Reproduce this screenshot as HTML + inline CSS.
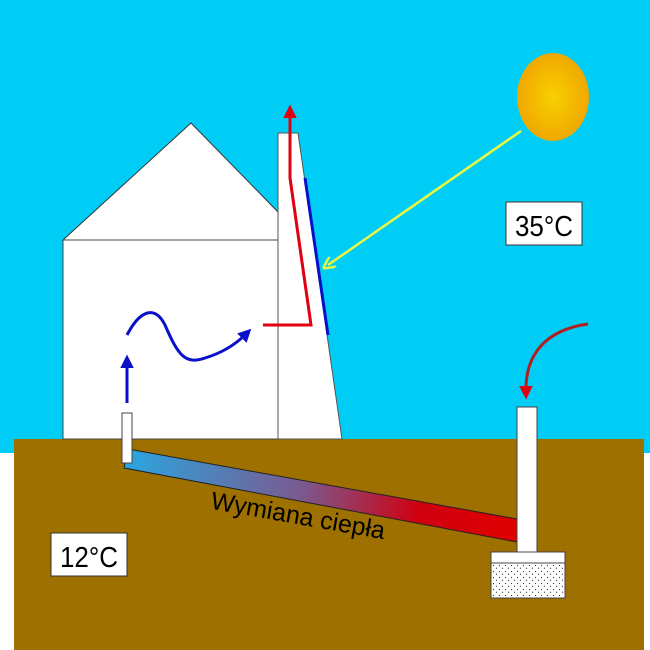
<!DOCTYPE html>
<html><head><meta charset="utf-8"><style>
html,body{margin:0;padding:0;background:#fff}
svg{display:block}
text{font-family:"Liberation Sans",sans-serif}
</style></head><body>
<svg width="650" height="650" viewBox="0 0 650 650">
<defs>
<radialGradient id="sunG" cx="0.5" cy="0.5" r="0.5"><stop offset="0" stop-color="#f8d000"/><stop offset="1" stop-color="#f0a800"/></radialGradient>
<linearGradient id="pipeG" x1="124" y1="460" x2="517" y2="530" gradientUnits="userSpaceOnUse"><stop offset="0" stop-color="#2aa6e0"/><stop offset="0.45" stop-color="#7a5a90"/><stop offset="0.75" stop-color="#d00010"/><stop offset="1" stop-color="#e00000"/></linearGradient>
<pattern id="dots" width="6" height="6" patternUnits="userSpaceOnUse"><rect width="6" height="6" fill="#fff"/><circle cx="1.5" cy="1.5" r="0.6" fill="#333"/><circle cx="4.5" cy="4.2" r="0.6" fill="#333"/></pattern>
<marker id="aBlue" markerWidth="4.5" markerHeight="4.5" refX="2" refY="2.25" orient="auto" markerUnits="strokeWidth"><path d="M0,0 L4.5,2.25 L0,4.5 z" fill="#0a10c8"/></marker>
<marker id="aRed" markerWidth="4.5" markerHeight="4.5" refX="2" refY="2.25" orient="auto" markerUnits="strokeWidth"><path d="M0,0 L4.5,2.25 L0,4.5 z" fill="#e00010"/></marker>
<marker id="aYel" markerWidth="5" markerHeight="5" refX="2.5" refY="2.5" orient="auto" markerUnits="strokeWidth"><path d="M0,0 L5,2.5 L0,5" fill="none" stroke="#e8f840" stroke-width="1"/></marker>
</defs>
<rect x="0" y="0" width="650" height="453" fill="#00cdf6"/>
<rect x="14" y="439" width="630" height="211" fill="#9e7000"/>
<g>
<polygon points="63,240 191,123 278,212 278,240" fill="#fff" stroke="#333" stroke-width="1"/>
<rect x="63" y="240" width="215" height="199" fill="#fff" stroke="#444" stroke-width="1"/>
<polygon points="278,133 298,133 342,439 278,439" fill="#fff" stroke="#555" stroke-width="1"/>
</g>
<line x1="305" y1="178" x2="328" y2="335" stroke="#0a10c8" stroke-width="3"/>
<polyline points="263,325 311,325 290,178 290,112" fill="none" stroke="#e00010" stroke-width="3" marker-end="url(#aRed)"/>
<line x1="521" y1="131" x2="328" y2="265" stroke="#e8f840" stroke-width="2.5" marker-end="url(#aYel)"/>
<ellipse cx="553" cy="97" rx="36" ry="44" fill="url(#sunG)"/>
<line x1="127" y1="403" x2="127" y2="362" stroke="#0a10c8" stroke-width="3" marker-end="url(#aBlue)"/>
<path d="M127,335 C140,310 155,305 165,325 C178,355 185,365 205,358 C225,352 238,342 246,334" fill="none" stroke="#0a10c8" stroke-width="3" marker-end="url(#aBlue)"/>
<path d="M588,324 C545,330 525,355 526,392" fill="none" stroke="#b02020" stroke-width="3" marker-end="url(#aRed)"/>
<polygon points="128,449 517,519 517,542 124,468" fill="url(#pipeG)" stroke="#222" stroke-width="1"/>
<rect x="122" y="413" width="10" height="50" fill="#fff" stroke="#444" stroke-width="1"/>
<rect x="517" y="407" width="20" height="145" fill="#fff" stroke="#444" stroke-width="1"/>
<rect x="491" y="552" width="74" height="11" fill="#fff" stroke="#444" stroke-width="1"/>
<rect x="491" y="563" width="74" height="35" fill="url(#dots)" stroke="#444" stroke-width="1"/>
<text x="298" y="524" font-size="25" text-anchor="middle" fill="#000" transform="rotate(10 298 516)">Wymiana ciepła</text>
<g>
<rect x="506" y="202" width="76" height="43" fill="#fff" stroke="#333" stroke-width="1"/>
<text x="544" y="236" font-size="29" text-anchor="middle" fill="#000" textLength="58" lengthAdjust="spacingAndGlyphs">35°C</text>
</g>
<g>
<rect x="51" y="533" width="76" height="43" fill="#fff" stroke="#333" stroke-width="1"/>
<text x="89" y="567" font-size="29" text-anchor="middle" fill="#000" textLength="58" lengthAdjust="spacingAndGlyphs">12°C</text>
</g>
</svg>
</body></html>
